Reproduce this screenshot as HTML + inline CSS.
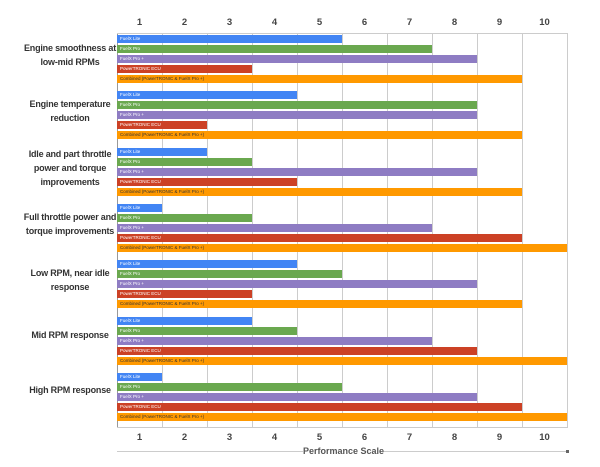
<!DOCTYPE html>
<html><head><meta charset="utf-8"><style>
body{margin:0;width:600px;height:467px;background:#fff;font-family:"Liberation Sans",sans-serif;position:relative;overflow:hidden}
.a{position:absolute}
.t{position:absolute;width:45px;text-align:center;font-size:9.5px;font-weight:bold;color:#444}
.g{position:absolute;top:33px;height:394px;width:1px;background:#ccc}
.b{position:absolute;left:117px;height:8px;font-size:4.5px;color:#fff;line-height:8px;padding-left:3px;box-sizing:border-box;white-space:nowrap}
.c{position:absolute;left:0;width:140px;text-align:center;font-size:9px;font-weight:bold;color:#333;line-height:14px;white-space:nowrap;letter-spacing:-0.2px}
.l1{background:#4285f4}.l2{background:#6aa84f}.l3{background:#8e7cc3}.l4{background:#cc4125}.l5{background:#ff9900;color:#333}
</style></head><body>
<div class="t" style="left:117px;top:17px">1</div><div class="t" style="left:162px;top:17px">2</div><div class="t" style="left:207px;top:17px">3</div><div class="t" style="left:252px;top:17px">4</div><div class="t" style="left:297px;top:17px">5</div><div class="t" style="left:342px;top:17px">6</div><div class="t" style="left:387px;top:17px">7</div><div class="t" style="left:432px;top:17px">8</div><div class="t" style="left:477px;top:17px">9</div><div class="t" style="left:522px;top:17px">10</div>
<div class="t" style="left:117px;top:432px">1</div><div class="t" style="left:162px;top:432px">2</div><div class="t" style="left:207px;top:432px">3</div><div class="t" style="left:252px;top:432px">4</div><div class="t" style="left:297px;top:432px">5</div><div class="t" style="left:342px;top:432px">6</div><div class="t" style="left:387px;top:432px">7</div><div class="t" style="left:432px;top:432px">8</div><div class="t" style="left:477px;top:432px">9</div><div class="t" style="left:522px;top:432px">10</div>
<div class="g" style="left:117px;background:#999"></div><div class="g" style="left:162px"></div><div class="g" style="left:207px"></div><div class="g" style="left:252px"></div><div class="g" style="left:297px"></div><div class="g" style="left:342px"></div><div class="g" style="left:387px"></div><div class="g" style="left:432px"></div><div class="g" style="left:477px"></div><div class="g" style="left:522px"></div><div class="g" style="left:567px"></div>
<div class="a" style="left:117px;top:33px;width:451px;height:1px;background:#ccc"></div>
<div class="a" style="left:117px;top:427px;width:451px;height:1px;background:#ccc"></div>
<div class="a" style="left:117px;top:451px;width:451px;height:1px;background:#ccc"></div>
<div class="a" style="left:566px;top:450px;width:3px;height:3px;background:#666"></div>
<div class="a" style="left:303px;top:445px;width:80px;text-align:center;font-size:9px;font-weight:bold;color:#555;white-space:nowrap;background:#fff;line-height:12px">Performance Scale</div>

<div class="c" style="top:41px">Engine smoothness at<br>low-mid RPMs</div>
<div class="b l1" style="top:35px;width:225px">FuelX Lite</div><div class="b l2" style="top:45px;width:315px">FuelX Pro</div><div class="b l3" style="top:55px;width:360px">FuelX Pro +</div><div class="b l4" style="top:65px;width:135px">PowerTRONIC ECU</div><div class="b l5" style="top:75px;width:405px">Combined (PowerTRONIC &amp; FuelX Pro +)</div>

<div class="c" style="top:97px">Engine temperature<br>reduction</div>
<div class="b l1" style="top:91px;width:180px">FuelX Lite</div><div class="b l2" style="top:101px;width:360px">FuelX Pro</div><div class="b l3" style="top:111px;width:360px">FuelX Pro +</div><div class="b l4" style="top:121px;width:90px">PowerTRONIC ECU</div><div class="b l5" style="top:131px;width:405px">Combined (PowerTRONIC &amp; FuelX Pro +)</div>

<div class="c" style="top:147px">Idle and part throttle<br>power and torque<br>improvements</div>
<div class="b l1" style="top:148px;width:90px">FuelX Lite</div><div class="b l2" style="top:158px;width:135px">FuelX Pro</div><div class="b l3" style="top:168px;width:360px">FuelX Pro +</div><div class="b l4" style="top:178px;width:180px">PowerTRONIC ECU</div><div class="b l5" style="top:188px;width:405px">Combined (PowerTRONIC &amp; FuelX Pro +)</div>

<div class="c" style="top:210px">Full throttle power and<br>torque improvements</div>
<div class="b l1" style="top:204px;width:45px">FuelX Lite</div><div class="b l2" style="top:214px;width:135px">FuelX Pro</div><div class="b l3" style="top:224px;width:315px">FuelX Pro +</div><div class="b l4" style="top:234px;width:405px">PowerTRONIC ECU</div><div class="b l5" style="top:244px;width:450px">Combined (PowerTRONIC &amp; FuelX Pro +)</div>

<div class="c" style="top:266px">Low RPM, near idle<br>response</div>
<div class="b l1" style="top:260px;width:180px">FuelX Lite</div><div class="b l2" style="top:270px;width:225px">FuelX Pro</div><div class="b l3" style="top:280px;width:360px">FuelX Pro +</div><div class="b l4" style="top:290px;width:135px">PowerTRONIC ECU</div><div class="b l5" style="top:300px;width:405px">Combined (PowerTRONIC &amp; FuelX Pro +)</div>

<div class="c" style="top:328px">Mid RPM response</div>
<div class="b l1" style="top:317px;width:135px">FuelX Lite</div><div class="b l2" style="top:327px;width:180px">FuelX Pro</div><div class="b l3" style="top:337px;width:315px">FuelX Pro +</div><div class="b l4" style="top:347px;width:360px">PowerTRONIC ECU</div><div class="b l5" style="top:357px;width:450px">Combined (PowerTRONIC &amp; FuelX Pro +)</div>

<div class="c" style="top:383px">High RPM response</div>
<div class="b l1" style="top:373px;width:45px">FuelX Lite</div><div class="b l2" style="top:383px;width:225px">FuelX Pro</div><div class="b l3" style="top:393px;width:360px">FuelX Pro +</div><div class="b l4" style="top:403px;width:405px">PowerTRONIC ECU</div><div class="b l5" style="top:413px;width:450px">Combined (PowerTRONIC &amp; FuelX Pro +)</div>
</body></html>
